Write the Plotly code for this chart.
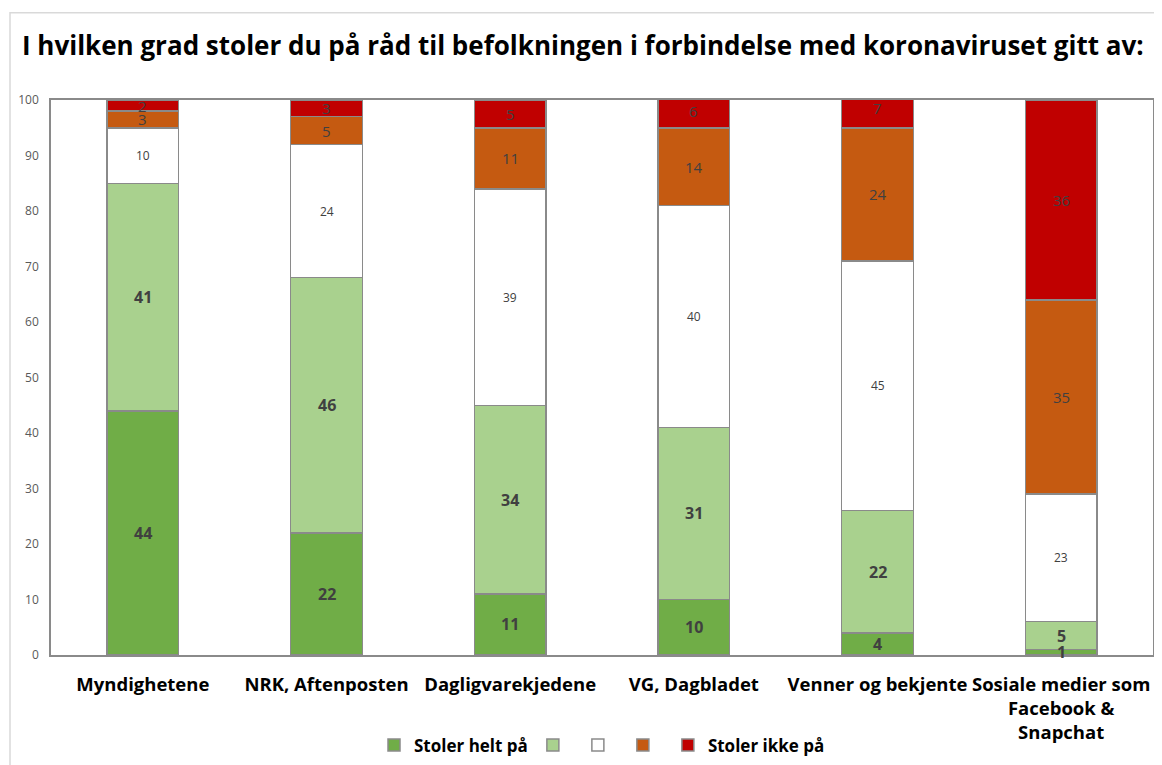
import plotly.graph_objects as go
import numpy as np

categories = ["Myndighetene", "NRK, Aftenposten", "Dagligvarekjedene", "VG, Dagbladet",
              "Venner og bekjente", "Sosiale medier som<br>Facebook &<br>Snapchat"]
series_names = ["Stoler helt på", "", "", "", "Stoler ikke på"]
helt = [44, 22, 11, 10, 4, 1]
ganske = [41, 46, 34, 31, 22, 5]
noytral = [10, 24, 39, 40, 45, 23]
lite = [3, 5, 11, 14, 24, 35]
ikke = [2, 3, 5, 6, 7, 36]
y_ticks = [0, 10, 20, 30, 40, 50, 60, 70, 80, 90, 100]

series = [helt, ganske, noytral, lite, ikke]
colors = ["#70AD47", "#A9D18E", "#FFFFFF", "#C55A11", "#C00000"]
label_fonts = [dict(size=16, bold=True), dict(size=16, bold=True), dict(size=12, bold=False),
               dict(size=15, bold=False), dict(size=15, bold=False)]

FONT = "Open Sans"
fig = go.Figure()
for name, vals, col in zip(series_names, series, colors):
    fig.add_trace(go.Bar(x=categories, y=vals, name=name, marker=dict(color=col, line=dict(color="#8a8a8a", width=1.5)),
                         width=0.39, hoverinfo="skip"))

cum = np.zeros(len(categories))
annotations = []
for vals, lf in zip(series, label_fonts):
    v = np.array(vals, dtype=float)
    mids = cum + v / 2
    for c, m, val in zip(categories, mids, vals):
        annotations.append(dict(x=c, y=m, text=("<b>%d</b>" % val) if lf["bold"] else str(val),
                                showarrow=False, xref="x", yref="y",
                                font=dict(family=FONT, size=lf["size"], color="#404040")))
    cum += v

annotations.append(dict(x=-0.0281, y=1.0, xref="paper", yref="paper", yshift=55, xanchor="left", yanchor="middle",
                        text="<b>I hvilken grad stoler du på råd til befolkningen i forbindelse med koronaviruset gitt av:</b>",
                        showarrow=False, font=dict(family=FONT, size=26, color="#000000")))

fig.update_layout(
    width=1162, height=765,
    margin=dict(l=43, r=17, t=92, b=118),
    paper_bgcolor="white", plot_bgcolor="white",
    barmode="stack", bargap=0.61,
    annotations=annotations,
    showlegend=True,
    legend=dict(orientation="h", x=0.5, xanchor="center", yref="container", y=0.036, yanchor="middle",
                font=dict(family=FONT, size=17, color="#000000", weight="bold"),
                traceorder="normal", itemwidth=30, tracegroupgap=0),
    shapes=[dict(type="rect", xref="paper", yref="paper", x0=-0.0372, x1=1.1, y0=-0.3, y1=1.157,
                 line=dict(color="#d9d9d9", width=1.5), fillcolor="rgba(0,0,0,0)", layer="below")],
    font=dict(family=FONT),
)
fig.update_xaxes(showline=True, linecolor="#8a8a8a", linewidth=1.5, mirror=True, showgrid=False, automargin=False,
                 tickfont=dict(family=FONT, size=18.5, color="#000000", weight="bold"), ticks="",
                 ticklabelstandoff=12)
fig.update_yaxes(range=[0, 100], tickvals=y_ticks, showline=True, linecolor="#8a8a8a", linewidth=1.5, mirror=True,
                 showgrid=False, zeroline=False, tickfont=dict(family=FONT, size=12, color="#595959"), ticks="",
                 ticklabelstandoff=8, automargin=False)
fig.write_html("out.html")
